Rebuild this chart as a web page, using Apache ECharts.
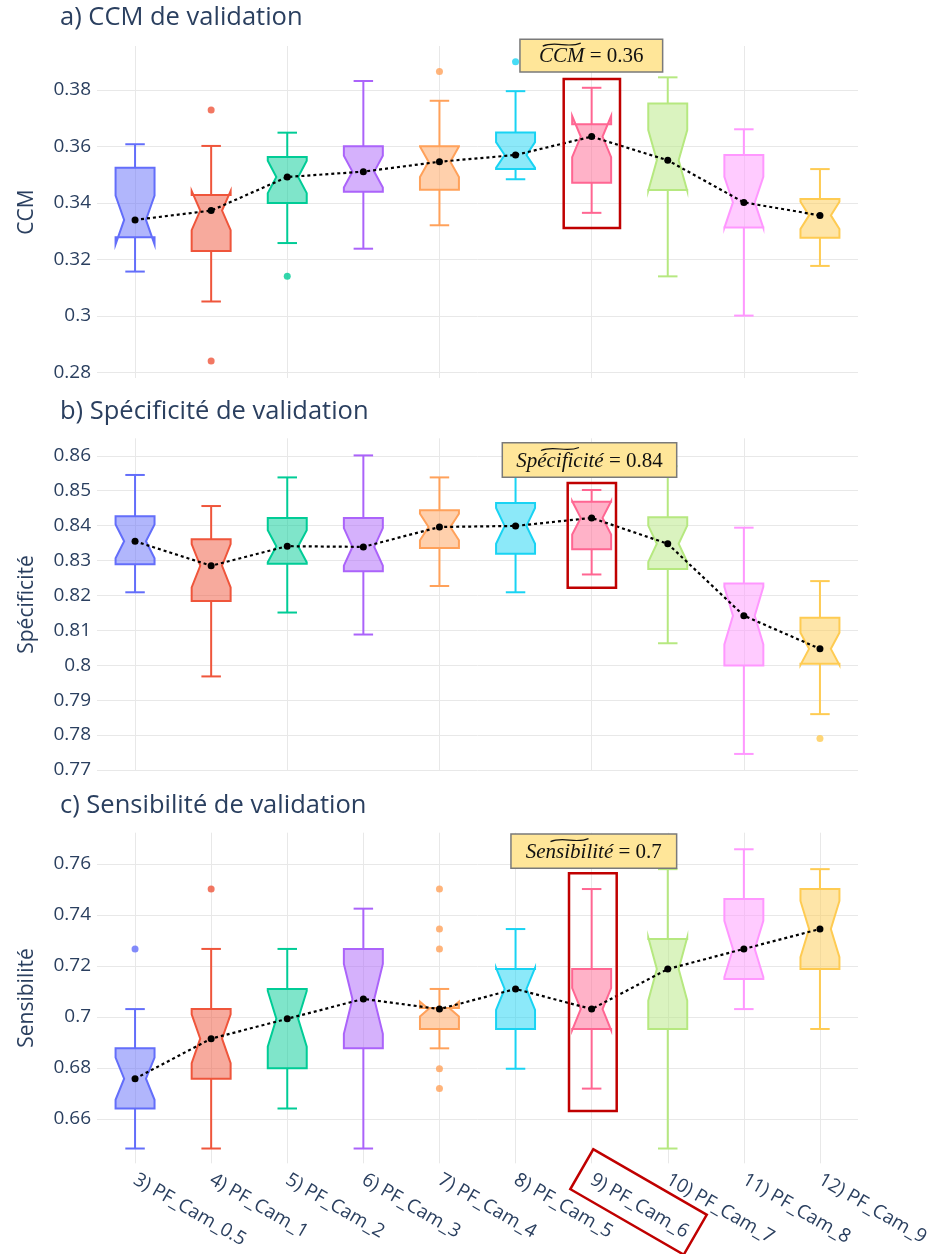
<!DOCTYPE html>
<html>
<head>
<meta charset="utf-8">
<script src="https://cdn.jsdelivr.net/npm/echarts@6/dist/echarts.min.js"></script>
<style>
  html, body { margin: 0; padding: 0; background: #fff; }
  #chart { width: 933px; height: 1254px; }
</style>
</head>
<body>
<div id="chart"></div>
<script>
const categories = ['3) PF_Cam_0.5', '4) PF_Cam_1', '5) PF_Cam_2', '6) PF_Cam_3', '7) PF_Cam_4',
  '8) PF_Cam_5', '9) PF_Cam_6', '10) PF_Cam_7', '11) PF_Cam_8', '12) PF_Cam_9'];
const colors = ['#636EFA', '#EF553B', '#00CC96', '#AB63FA', '#FFA15A',
  '#19D3F3', '#FF6692', '#B6E880', '#FF97FF', '#FECB52'];

// [whisker bas, Q1, médiane, Q3, whisker haut]
const ccmStats = [
  [0.3157, 0.3279, 0.3340, 0.3525, 0.3608],
  [0.3051, 0.3230, 0.3373, 0.3428, 0.3602],
  [0.3258, 0.3400, 0.3492, 0.3563, 0.3649],
  [0.3238, 0.3440, 0.3511, 0.3601, 0.3832],
  [0.3321, 0.3447, 0.3546, 0.3601, 0.3762],
  [0.3484, 0.3520, 0.3570, 0.3650, 0.3796],
  [0.3365, 0.3472, 0.3635, 0.3679, 0.3808],
  [0.3140, 0.3446, 0.3551, 0.3752, 0.3845],
  [0.3001, 0.3313, 0.3402, 0.3570, 0.3661],
  [0.3177, 0.3277, 0.3356, 0.3414, 0.3520]
];
const ccmOutliers = [[1, 0.3729], [1, 0.2840], [2, 0.3140], [4, 0.3866], [5, 0.3900]];

const speStats = [
  [0.8209, 0.8289, 0.8355, 0.8427, 0.8545],
  [0.7968, 0.8184, 0.8285, 0.8361, 0.8456],
  [0.8151, 0.8291, 0.8341, 0.8422, 0.8538],
  [0.8088, 0.8269, 0.8339, 0.8422, 0.8601],
  [0.8227, 0.8336, 0.8396, 0.8444, 0.8538],
  [0.8209, 0.8319, 0.8399, 0.8465, 0.8555],
  [0.8260, 0.8332, 0.8422, 0.8468, 0.8502],
  [0.8063, 0.8276, 0.8348, 0.8424, 0.8570],
  [0.7746, 0.7999, 0.8142, 0.8234, 0.8394],
  [0.7860, 0.8004, 0.8047, 0.8136, 0.8241]
];
const speOutliers = [[9, 0.7790]];

const senStats = [
  [0.6484, 0.6641, 0.6758, 0.6877, 0.7031],
  [0.6484, 0.6758, 0.6915, 0.7031, 0.7267],
  [0.6641, 0.6799, 0.6993, 0.7110, 0.7267],
  [0.6484, 0.6877, 0.7071, 0.7267, 0.7425],
  [0.6877, 0.6953, 0.7031, 0.7035, 0.7110],
  [0.6797, 0.6953, 0.7110, 0.7188, 0.7345],
  [0.6719, 0.6953, 0.7031, 0.7188, 0.7502],
  [0.6484, 0.6953, 0.7188, 0.7306, 0.7580],
  [0.7031, 0.7149, 0.7267, 0.7463, 0.7658],
  [0.6953, 0.7188, 0.7345, 0.7502, 0.7580]
];
const senOutliers = [[0, 0.7267], [1, 0.7502], [4, 0.7502], [4, 0.7345], [4, 0.7267], [4, 0.6797], [4, 0.6719]];

const NOTCH_N = 20; // nombre de runs par configuration
const textColor = '#2a3f5f';
const gridColor = '#e8e8e8';

function rgba(hex, a) {
  const n = parseInt(hex.slice(1), 16);
  return 'rgba(' + (n >> 16) + ',' + ((n >> 8) & 255) + ',' + (n & 255) + ',' + a + ')';
}

function notchedBox(params, api) {
  const i = api.value(0);
  const lo = api.value(1), q1 = api.value(2), md = api.value(3), q3 = api.value(4), hi = api.value(5);
  const band = api.size([1, 0])[0];
  const cx = api.coord([i, md])[0];
  const y = v => api.coord([i, v])[1];
  const hw = band * 0.256, cw = hw * 0.5, nw = hw * 0.56;
  const nh = 1.57 * (q3 - q1) / Math.sqrt(NOTCH_N);
  const c = colors[i];
  const st = { stroke: c, lineWidth: 2 };
  const pts = [
    [cx - hw, y(q1)], [cx - hw, y(md - nh)], [cx - nw, y(md)], [cx - hw, y(md + nh)], [cx - hw, y(q3)],
    [cx + hw, y(q3)], [cx + hw, y(md + nh)], [cx + nw, y(md)], [cx + hw, y(md - nh)], [cx + hw, y(q1)]
  ];
  return {
    type: 'group',
    children: [
      { type: 'line', shape: { x1: cx, y1: y(q3), x2: cx, y2: y(hi) }, style: st },
      { type: 'line', shape: { x1: cx - cw, y1: y(hi), x2: cx + cw, y2: y(hi) }, style: st },
      { type: 'line', shape: { x1: cx, y1: y(q1), x2: cx, y2: y(lo) }, style: st },
      { type: 'line', shape: { x1: cx - cw, y1: y(lo), x2: cx + cw, y2: y(lo) }, style: st },
      { type: 'polygon', shape: { points: pts }, style: { fill: rgba(c, 0.5), stroke: c, lineWidth: 2, lineJoin: 'miter' } }
    ]
  };
}

const panels = [
  { stats: ccmStats, out: ccmOutliers, name: 'CCM', min: 0.278, max: 0.3956, step: 0.02, top: 46, height: 332 },
  { stats: speStats, out: speOutliers, name: 'Spécificité', min: 0.7698, max: 0.865, step: 0.01, top: 438.3, height: 332.4 },
  { stats: senStats, out: senOutliers, name: 'Sensibilité', min: 0.6426, max: 0.7723, step: 0.02, top: 832.7, height: 330.6 }
];

const grids = [], xAxes = [], yAxes = [], series = [];
panels.forEach((p, k) => {
  grids.push({ left: 97, width: 761, top: p.top, height: p.height });
  xAxes.push({
    type: 'category', gridIndex: k, data: categories,
    axisLine: { show: false }, axisTick: { show: false, alignWithLabel: true },
    splitLine: { show: true, alignWithLabel: true, lineStyle: { color: gridColor, width: 1 } },
    axisLabel: k === 2 ? {
      rotate: -30, fontSize: 19, color: textColor, fontFamily: 'Open Sans', margin: 15, interval: 0
    } : { show: false }
  });
  yAxes.push({
    type: 'value', gridIndex: k, min: p.min, max: p.max,
    splitNumber: Math.round((p.max - p.min) / p.step),
    minInterval: p.step, maxInterval: p.step,
    name: p.name, nameLocation: 'middle', nameGap: 59, nameRotate: 90,
    nameTextStyle: { fontSize: 21, color: textColor, fontFamily: 'Open Sans' },
    axisLine: { show: false }, axisTick: { show: false },
    splitLine: { showMinLine: false, showMaxLine: false, lineStyle: { color: gridColor, width: 1 } },
    axisLabel: {
      fontSize: 19, color: textColor, fontFamily: 'Open Sans', margin: 6,
      formatter: v => {
        const r = v / p.step;
        return Math.abs(r - Math.round(r)) < 1e-6 ? String(+v.toFixed(3)) : '';
      }
    }
  });
  series.push({
    type: 'custom', xAxisIndex: k, yAxisIndex: k,
    renderItem: notchedBox,
    encode: { x: 0, y: [1, 2, 3, 4, 5] },
    data: p.stats.map((s, i) => [i].concat(s)),
    z: 2
  });
  series.push({
    type: 'scatter', xAxisIndex: k, yAxisIndex: k, symbolSize: 7, z: 3,
    data: p.out.map(o => ({ value: o, itemStyle: { color: colors[o[0]] } }))
  });
  series.push({
    type: 'line', xAxisIndex: k, yAxisIndex: k, z: 4,
    data: p.stats.map(s => s[2]),
    symbol: 'circle', symbolSize: 7, itemStyle: { color: '#000' },
    lineStyle: { color: '#000', width: 2.2, type: [3, 3] }
  });
});

// annotations (encadrés jaunes)
const ctx = document.createElement('canvas').getContext('2d');
function textW(str, font) { ctx.font = font; return ctx.measureText(str).width; }
function note(cx, cy, w, h, word, rest) {
  const fs = 21;
  const wI = textW(word, 'italic ' + fs + 'px "Liberation Serif"');
  const wN = textW(rest, fs + 'px "Liberation Serif"');
  const x0 = cx - (wI + wN) / 2;
  const tx = x0 + wI / 2 - 19;
  const ty = cy - 11;
  const base = { fontSize: fs, fontFamily: 'Liberation Serif', fill: '#111', verticalAlign: 'middle', textVerticalAlign: 'middle' };
  return [
    { type: 'rect', z: 100, shape: { x: cx - w / 2, y: cy - h / 2, width: w, height: h },
      style: { fill: '#FFE699', stroke: '#7a7a7a', lineWidth: 1.5 } },
    { type: 'text', z: 101, x: x0, y: cy + 1, style: Object.assign({ text: word, fontStyle: 'italic' }, base) },
    { type: 'text', z: 101, x: x0 + wI, y: cy + 1, style: Object.assign({ text: rest }, base) },
    { type: 'bezierCurve', z: 101,
      shape: { x1: tx, y1: ty + 1.5, cpx1: tx + 13, cpy1: ty - 4, cpx2: tx + 25, cpy2: ty + 4, x2: tx + 38, y2: ty - 1.5 },
      style: { stroke: '#111', lineWidth: 1.2, fill: null } }
  ];
}
function redBox(x, y, w, h, rot) {
  return { type: 'rect', z: 100, x: x, y: y, rotation: rot || 0, shape: { x: 0, y: 0, width: w, height: h },
    style: { fill: null, stroke: '#C00000', lineWidth: 2.5 } };
}

const graphics = []
  .concat(note(591.3, 55.6, 142.7, 32.7, 'CCM', ' = 0.36'))
  .concat(note(589.5, 460, 174.4, 34.6, 'Spécificité', ' = 0.84'))
  .concat(note(593.8, 851.1, 165.7, 34.3, 'Sensibilité', ' = 0.7'))
  .concat([
    redBox(563.7, 79, 56.3, 149),
    redBox(567.7, 483, 48.3, 104.7),
    redBox(569, 873.3, 47.7, 237.7),
    redBox(593.3, 1149.3, 131, 46, -Math.PI / 6)
  ]);

const titleStyle = { fontSize: 25.5, fontWeight: 'normal', color: textColor, fontFamily: 'Open Sans' };
const chart = echarts.init(document.getElementById('chart'));
chart.setOption({
  backgroundColor: '#fff',
  animation: false,
  title: [
    { text: 'a) CCM de validation', left: 60, top: 5, padding: 0, textStyle: titleStyle },
    { text: 'b) Spécificité de validation', left: 60, top: 398.5, padding: 0, textStyle: titleStyle },
    { text: 'c) Sensibilité de validation', left: 60, top: 793, padding: 0, textStyle: titleStyle }
  ],
  grid: grids,
  xAxis: xAxes,
  yAxis: yAxes,
  series: series,
  graphic: graphics
});
</script>
</body>
</html>
